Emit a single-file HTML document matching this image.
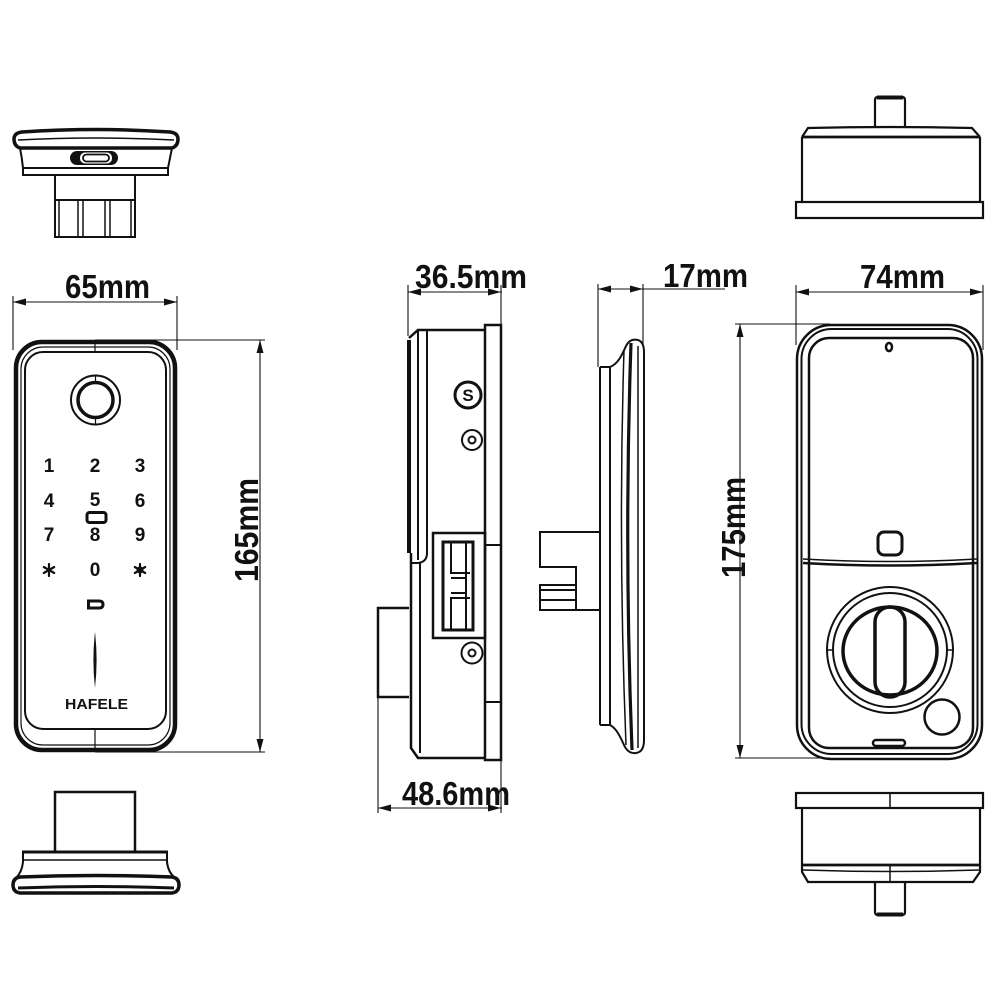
<!DOCTYPE html>
<html><head><meta charset="utf-8"><style>html,body{margin:0;padding:0;background:#fff}svg{display:block}</style></head>
<body>
<svg width="1000" height="1000" viewBox="0 0 1000 1000" xmlns="http://www.w3.org/2000/svg">
<rect width="1000" height="1000" fill="#fff"/>

<!-- ============ TOP-LEFT VIEW ============ -->
<g fill="none" stroke="#111" stroke-width="2">
  <path d="M22,132 Q96,127 170,132 Q178,133 178,139 Q178,146 172,148 L20,148 Q14,146 14,139 Q14,133 22,132Z" stroke-width="3.5"/>
  <path d="M18,140 Q96,136 174,140" stroke-width="1.5"/>
  <path d="M20,148 Q22,158 23,168 L168,168 Q170,158 172,148"/>
  <rect x="23" y="168" width="145" height="7"/>
  <rect x="55" y="175" width="80" height="62"/>
  <line x1="55" y1="200" x2="135" y2="200"/>
  <line x1="59" y1="200" x2="59" y2="237" stroke-width="1.5"/>
  <line x1="78" y1="200" x2="78" y2="237" stroke-width="1.5"/>
  <line x1="83" y1="200" x2="83" y2="237" stroke-width="1.5"/>
  <line x1="105" y1="200" x2="105" y2="237" stroke-width="1.5"/>
  <line x1="110" y1="200" x2="110" y2="237" stroke-width="1.5"/>
  <line x1="131" y1="200" x2="131" y2="237" stroke-width="1.5"/>
</g>
<rect x="70" y="151" width="48" height="14" rx="7" fill="#111"/>
<rect x="80" y="152.5" width="32" height="11" rx="5" fill="#fff"/>
<rect x="83" y="154.5" width="26" height="7" rx="3.5" fill="none" stroke="#111" stroke-width="1.8"/>

<!-- ============ FRONT LEFT PANEL ============ -->
<g fill="none" stroke="#111">
  <rect x="16" y="342" width="159" height="408" rx="26" stroke-width="4.5"/>
  <rect x="21" y="347" width="149" height="398" rx="22" stroke-width="1.2"/>
  <rect x="25" y="352" width="141" height="377" rx="18" stroke-width="2"/>
  <line x1="95" y1="342" x2="95" y2="351" stroke-width="1.2"/>
  <line x1="95" y1="729" x2="95" y2="750" stroke-width="1.2"/>
  <!-- fingerprint -->
  <circle cx="95.5" cy="400" r="24.5" stroke-width="2"/>
  <circle cx="95.5" cy="400" r="17.5" stroke-width="3.5"/>
  <line x1="95.5" y1="375" x2="95.5" y2="383" stroke-width="1.2"/>
  <line x1="95.5" y1="417" x2="95.5" y2="425" stroke-width="1.2"/>
  <!-- icons -->
  <rect x="87" y="512.5" width="19" height="10" rx="2.5" stroke-width="3"/>
  <path d="M88.5,601 H99 Q103,601 103,604.5 Q103,608 99,608 H88.5 Z" stroke-width="3"/>
</g>
<g font-family="'Liberation Sans', sans-serif" font-weight="bold" font-size="19" fill="#111" text-anchor="middle">
  <text x="49" y="472">1</text><text x="95" y="472">2</text><text x="140" y="472">3</text>
  <text x="49" y="507">4</text><text x="95" y="506">5</text><text x="140" y="507">6</text>
  <text x="49" y="541">7</text><text x="95" y="541">8</text><text x="140" y="541">9</text>
  <text x="95" y="576">0</text>
</g>
<g stroke="#111" stroke-width="2.2" stroke-linecap="round">
  <line x1="49" y1="564" x2="49" y2="576"/><line x1="43.8" y1="567" x2="54.2" y2="573"/><line x1="43.8" y1="573" x2="54.2" y2="567"/>
  <line x1="140" y1="564" x2="140" y2="576"/><line x1="134.8" y1="567" x2="145.2" y2="573"/><line x1="134.8" y1="573" x2="145.2" y2="567"/>
</g>
<circle cx="140" cy="570" r="3.5" fill="#111"/>
<path d="M95,632 Q98.2,660 95,688 Q91.8,660 95,632Z" fill="#111"/>
<text x="65" y="709" font-family="'Liberation Sans', sans-serif" font-weight="bold" font-size="15" textLength="63" lengthAdjust="spacingAndGlyphs" fill="#111">HAFELE</text>

<!-- ============ BOTTOM-LEFT VIEW ============ -->
<g fill="none" stroke="#111" stroke-width="2.5">
  <rect x="55" y="792" width="80" height="60"/>
  <line x1="22" y1="852" x2="168" y2="852" stroke-width="3"/>
  <line x1="23" y1="860" x2="167" y2="860" stroke-width="1.5"/>
  <path d="M23,852 L23,862 Q22,872 16,878" stroke-width="2"/>
  <path d="M167,852 L167,862 Q168,872 175,878" stroke-width="2"/>
  <path d="M20,877 Q96,874 172,877 Q179,878 179,885 Q179,892 172,893 L20,893 Q13,892 13,885 Q13,878 20,877Z" stroke-width="3.5"/>
  <path d="M18,888 Q96,885 174,888" stroke-width="3"/>
</g>

<!-- ============ SIDE VIEW (36.5 / 48.6) ============ -->
<g fill="none" stroke="#111" stroke-width="2">
  <path d="M409,340 L409,553" stroke-width="4"/>
  <path d="M409,338 L418,330 H485" stroke-width="2.5"/>
  <line x1="418" y1="330" x2="418" y2="560"/>
  <path d="M427,330 L427,553 Q427,562 418,563 L411,563"/>
  <path d="M411,553 L411,748 L418,758 H485" stroke-width="2.5"/>
  <line x1="420" y1="563" x2="420" y2="753"/>
  <rect x="433" y="533" width="52" height="105" stroke-width="2.5"/>
  <rect x="443" y="542" width="30" height="88" stroke-width="3"/>
  <path d="M451,542 V573 H470 M451,630 V598 H470 M451,578 H466 M451,593 H466 M466,542 V630" stroke-width="2"/>
  <rect x="485" y="325" width="16" height="435" stroke-width="2.5"/>
  <line x1="485" y1="545" x2="501" y2="545"/>
  <line x1="485" y1="702" x2="501" y2="702"/>
  <path d="M409,608 H378 V697 H409" stroke-width="2.5"/>
  <circle cx="468" cy="395" r="13" stroke-width="3"/>
  <circle cx="472" cy="440" r="10" stroke-width="2"/>
  <circle cx="472" cy="440" r="3.5" stroke-width="2"/>
  <circle cx="472" cy="653" r="10.5" stroke-width="2"/>
  <circle cx="472" cy="653" r="3.5" stroke-width="2"/>
</g>
<text x="468" y="401" font-family="'Liberation Sans', sans-serif" font-weight="bold" font-size="17" text-anchor="middle" fill="#111">S</text>

<!-- ============ THIN SIDE VIEW (17) ============ -->
<g fill="none" stroke="#111" stroke-width="2">
  <line x1="600" y1="367" x2="600" y2="725"/>
  <line x1="610" y1="367" x2="610" y2="725"/>
  <line x1="600" y1="367" x2="610" y2="367"/>
  <line x1="600" y1="725" x2="610" y2="725"/>
  <path d="M610,367 C618,364 622,355 626,346 Q630,338 638,340 Q644,342 644,352 L644,740 Q644,752 636,753 Q628,754 624,745 C620,736 616,728 610,725"/>
  <path d="M624,350 Q618,545 626,745" stroke-width="1.5"/>
  <path d="M631,343 Q624,545 632,750" stroke-width="3.2"/>
  <path d="M638,346 L638,748" stroke-width="1.5"/>
  <path d="M600,532 H540 V567 H576 V585 H540 V610 H600"/>
  <line x1="576" y1="585" x2="576" y2="610"/>
  <line x1="540" y1="590" x2="576" y2="590"/>
  <line x1="540" y1="600" x2="576" y2="600"/>
</g>

<!-- ============ TOP-RIGHT VIEW ============ -->
<g fill="none" stroke="#111" stroke-width="2.2">
  <path d="M875,128 V100 Q875,97 878,97 H902 Q905,97 905,100 V128"/>
  <line x1="877" y1="97.5" x2="903" y2="97.5" stroke-width="4"/>
  <path d="M802,137 L808,128 Q890,126 972,128 L980,137"/>
  <line x1="802" y1="137" x2="980" y2="137" stroke-width="2.8"/>
  <line x1="802" y1="137" x2="802" y2="202"/>
  <line x1="980" y1="137" x2="980" y2="202"/>
  <rect x="796" y="202" width="187" height="16"/>
</g>

<!-- ============ RIGHT FRONT PANEL ============ -->
<g fill="none" stroke="#111">
  <rect x="797" y="325" width="185" height="434" rx="34" stroke-width="2.5"/>
  <rect x="801.5" y="329" width="176" height="425" rx="30" stroke-width="2"/>
  <rect x="809" y="338" width="164" height="410" rx="20" stroke-width="2.5"/>
  <path d="M803,559 Q890,564 977,559" stroke-width="1.5"/>
  <path d="M803,563 Q890,568 977,563" stroke-width="2.5"/>
  <ellipse cx="889" cy="347" rx="3" ry="4" stroke-width="2.5"/>
  <rect x="878" y="532" width="24" height="23" rx="6" stroke-width="3"/>
  <circle cx="890" cy="650" r="63" stroke-width="2"/>
  <circle cx="890" cy="650" r="57" stroke-width="2"/>
  <line x1="827" y1="650" x2="833" y2="650" stroke-width="1.5"/>
  <line x1="947" y1="650" x2="953" y2="650" stroke-width="1.5"/>
  <ellipse cx="890" cy="651" rx="47" ry="44" stroke-width="3.5"/>
  <rect x="875" y="607" width="30" height="90" rx="15" stroke-width="3.5"/>
  <circle cx="942" cy="717" r="17.5" stroke-width="2.5"/>
  <rect x="873" y="740" width="32" height="6" rx="3" stroke-width="2.5"/>
</g>

<!-- ============ BOTTOM-RIGHT VIEW ============ -->
<g fill="none" stroke="#111" stroke-width="2.2">
  <rect x="796" y="793" width="187" height="15"/>
  <line x1="890" y1="793" x2="890" y2="808" stroke-width="1.5"/>
  <line x1="802" y1="808" x2="802" y2="865"/>
  <line x1="980" y1="808" x2="980" y2="865"/>
  <line x1="802" y1="865" x2="980" y2="865" stroke-width="2.8"/>
  <path d="M802,865 L802,872 L808,882 H973 L980,872 L980,865"/>
  <path d="M803,870 Q890,873 979,870" stroke-width="1.5"/>
  <line x1="890" y1="865" x2="890" y2="882" stroke-width="1.5"/>
  <path d="M875,882 V912 Q875,915 878,915 H902 Q905,915 905,912 V882"/>
  <line x1="877" y1="914.5" x2="903" y2="914.5" stroke-width="4"/>
</g>

<!-- ============ DIMENSIONS ============ -->
<g stroke="#111" stroke-width="1.1" fill="none">
  <!-- 65mm -->
  <line x1="13" y1="302" x2="177" y2="302"/>
  <line x1="13" y1="296" x2="13" y2="350"/>
  <line x1="177" y1="296" x2="177" y2="350"/>
  <!-- 165mm -->
  <line x1="95" y1="340" x2="265" y2="340"/>
  <line x1="95" y1="752" x2="265" y2="752"/>
  <line x1="260" y1="340" x2="260" y2="752"/>
  <!-- 36.5mm -->
  <line x1="408" y1="292" x2="502" y2="292"/>
  <line x1="408" y1="285" x2="408" y2="336"/>
  <line x1="501" y1="285" x2="501" y2="325"/>
  <!-- 48.6mm -->
  <line x1="378" y1="808" x2="502" y2="808"/>
  <line x1="378" y1="697" x2="378" y2="813"/>
  <line x1="501" y1="760" x2="501" y2="813"/>
  <!-- 17mm -->
  <line x1="598" y1="289" x2="725" y2="289"/>
  <line x1="598" y1="284" x2="598" y2="367"/>
  <line x1="643" y1="284" x2="643" y2="345"/>
  <!-- 175mm -->
  <line x1="735" y1="324" x2="830" y2="324"/>
  <line x1="735" y1="758" x2="830" y2="758"/>
  <line x1="740" y1="324" x2="740" y2="758"/>
  <!-- 74mm -->
  <line x1="796" y1="292" x2="983" y2="292"/>
  <line x1="796" y1="285" x2="796" y2="345"/>
  <line x1="983" y1="285" x2="983" y2="350"/>
</g>
<g fill="#111">
  <polygon points="13,302 26,298.5 26,305.5"/><polygon points="177,302 164,298.5 164,305.5"/>
  <polygon points="260,340 256.5,353 263.5,353"/><polygon points="260,752 256.5,739 263.5,739"/>
  <polygon points="408,292 421,288.5 421,295.5"/><polygon points="501,292 488,288.5 488,295.5"/>
  <polygon points="378,808 391,804.5 391,811.5"/><polygon points="501,808 488,804.5 488,811.5"/>
  <polygon points="598,289 611,285.5 611,292.5"/><polygon points="643,289 630,285.5 630,292.5"/>
  <polygon points="740,324 736.5,337 743.5,337"/><polygon points="740,758 736.5,745 743.5,745"/>
  <polygon points="796,292 809,288.5 809,295.5"/><polygon points="983,292 970,288.5 970,295.5"/>
</g>
<g font-family="'Liberation Sans Narrow', 'Liberation Sans', sans-serif" font-weight="bold" font-size="33" fill="#111" lengthAdjust="spacingAndGlyphs">
  <text x="65" y="298" textLength="85" lengthAdjust="spacingAndGlyphs">65mm</text>
  <text x="415" y="288" textLength="112" lengthAdjust="spacingAndGlyphs">36.5mm</text>
  <text x="402" y="805" textLength="108" lengthAdjust="spacingAndGlyphs">48.6mm</text>
  <text x="663" y="287" textLength="85" lengthAdjust="spacingAndGlyphs">17mm</text>
  <text x="860" y="288" textLength="85" lengthAdjust="spacingAndGlyphs">74mm</text>
  <text transform="translate(258,582) rotate(-90)" x="0" y="0" textLength="104" lengthAdjust="spacingAndGlyphs">165mm</text>
  <text transform="translate(745,578) rotate(-90)" x="0" y="0" textLength="101" lengthAdjust="spacingAndGlyphs">175mm</text>
</g>
</svg>
</body></html>
